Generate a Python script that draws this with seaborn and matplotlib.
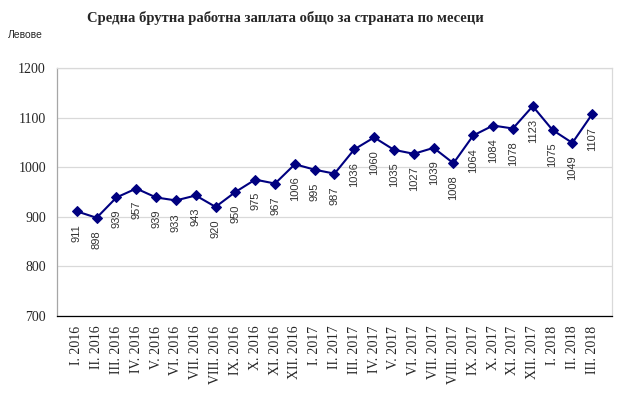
import numpy as np
import pandas as pd
import seaborn as sns
from matplotlib import pyplot as plt

months = ["I", "II", "III", "IV", "V", "VI", "VII", "VIII", "IX", "X", "XI", "XII"]
labels = [f"{m}. 2016" for m in months] + [f"{m}. 2017" for m in months] + \
    ["I. 2018", "II. 2018", "III. 2018"]
wages = [911, 898, 939, 957, 939, 933, 943, 920, 950, 975, 967, 1006,
         995, 987, 1036, 1060, 1035, 1027, 1039, 1008, 1064, 1084, 1078, 1123,
         1075, 1049, 1107]

df = pd.DataFrame({"pos": np.arange(len(wages)), "wage": wages})

sns.set_style("white")
plt.rcParams["font.family"] = ["Liberation Serif", "DejaVu Serif"]

fig = plt.figure(figsize=(6.27, 3.97), dpi=100)
ax = fig.add_axes([57 / 627, 1 - 316 / 397, 555 / 627, 248 / 397])

sns.lineplot(data=df, x="pos", y="wage", ax=ax, color="#000080",
             marker="D", markersize=5.5, markeredgecolor="#000080",
             linewidth=1.5, zorder=3)

# data labels, rotated, under each point
for x, y in zip(df["pos"], df["wage"]):
    ax.annotate(str(y), (x, y), xytext=(0, -9), textcoords="offset points",
                rotation=90, ha="center", va="top", fontsize=8,
                family="Liberation Sans", color="#333333")

n = len(wages)
ax.set_xlim(-1, n)
ax.set_ylim(700, 1200)
ax.set_yticks(range(700, 1201, 100))
ax.yaxis.grid(True, color="#d9d9d9", linewidth=0.9)
ax.set_axisbelow(True)

ax.set_xticks(np.arange(-1, n + 1))
ax.set_xticklabels([""] + labels + [""], rotation=90, fontsize=10)
ax.tick_params(axis="x", length=4, width=0.8, color="black", pad=3)
ax.tick_params(axis="y", length=4, width=0.8, color="#808080", labelsize=10, pad=4)
ax.set_xlabel("")
ax.set_ylabel("")

ax.spines["bottom"].set_color("black")
ax.spines["left"].set_color("#a6a6a6")
ax.spines["top"].set_color("#d9d9d9")
ax.spines["right"].set_color("#d9d9d9")
for s in ax.spines.values():
    s.set_linewidth(0.9)

fig.text(0.455, 1 - 18 / 397, "Средна брутна работна заплата общо за страната по месеци",
         ha="center", va="center", fontsize=10.5, fontweight="bold")
fig.text(8 / 627, 1 - 35 / 397, "Левове", ha="left", va="center", fontsize=7.5,
         family="Liberation Sans")

fig.savefig("out.png", dpi=100)
